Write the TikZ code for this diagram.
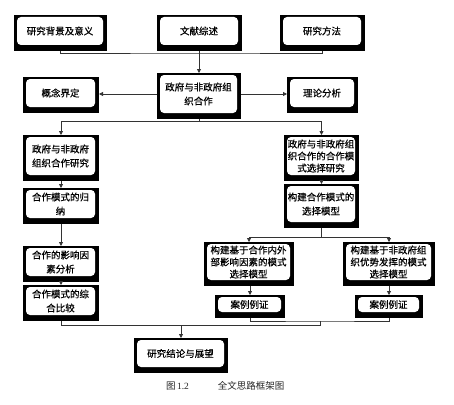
\documentclass[tikz,border=0pt]{standalone}
\usepackage{fontspec}
\newfontfamily\cjk[FakeBold=0.4]{Noto Sans CJK SC}
\newfontfamily\cjkcap{Noto Sans CJK SC}
\newfontfamily\capserif{Liberation Serif}
\usetikzlibrary{arrows.meta}
\tikzset{
  outerbox/.style={fill=black, inner sep=0pt, outer sep=0pt, draw=none},
  boxtext/.style={font=\cjk\fontsize{9.5}{14}\selectfont, align=center, inner sep=0pt, text=black},
  tight/.style={font=\cjk\fontsize{9.5}{12}\selectfont},
  conn/.style={draw=black!80, line width=0.8pt},
  arr/.style={conn, -{Triangle[length=4pt,width=4pt]}},
  captext/.style={font=\cjkcap\fontsize{9.5}{12}\selectfont, text=black!85, inner sep=0pt}
}
\newcommand{\flowbox}[7][]{%
  \node[outerbox, minimum width={(#5-#3)*1pt}, minimum height={(#6-#4)*1pt}] (#2) at ({(#3+#5)/2},{(#4+#6)/2}) {};
  \fill[white, rounded corners=4pt] ({#3+3},{#4+2}) rectangle ({#5-4},{#6-6});
  \node[boxtext,#1] at ({(#3+#5)/2-0.5},{(#4+#6)/2-2}) {#7};
}
\begin{document}
\begin{tikzpicture}[x=1pt,y=-1pt]
\useasboundingbox (0,0) rectangle (454,404);
\fill[white] (0,0) rectangle (454,404);
% boxes
\flowbox{b1}{14}{15}{107}{51}{研究背景及意义}
\flowbox{b2}{157}{15}{242}{51}{文献综述}
\flowbox{b3}{280}{15}{365}{51}{研究方法}
\flowbox{c}{157}{73}{241}{119}{政府与非政府组\\织合作}
\flowbox{k}{23}{77}{99}{113}{概念界定}
\flowbox{t}{287}{77}{358}{113}{理论分析}
\flowbox{L1}{23}{135}{99}{181}{政府与非政府\\组织合作研究}
\flowbox{L2}{23}{188}{99}{224}{合作模式的归\\纳}
\flowbox{L3}{23}{246}{99}{282}{合作的影响因\\素分析}
\flowbox{L4}{23}{285}{99}{321}{合作模式的综\\合比较}
\flowbox[tight]{R1}{284}{135}{359}{181}{政府与非政府组\\织合作的合作模\\式选择研究}
\flowbox{R2}{284}{184}{359}{228}{构建合作模式的\\选择模型}
\flowbox[tight]{S1}{204}{242}{294}{286}{构建基于合作内外\\部影响因素的模式\\选择模型}
\flowbox[tight]{S2}{343}{242}{435}{286}{构建基于非政府组\\织优势发挥的模式\\选择模型}
\flowbox{C1}{215}{295}{285}{318}{案例例证}
\flowbox{C2}{355}{295}{423}{318}{案例例证}
\flowbox{F}{134}{338}{228}{373}{研究结论与展望}
% connectors
\coordinate (bus1) at (199,53);
\draw[conn] (b1.south) |- (bus1) -| (b3.south);
\draw[arr] (c.north |- b2.south) -- (c.north);
\draw[arr] ([yshift=2pt]c.west) -- ([yshift=2pt]c.west -| k.east);
\draw[arr] ([yshift=2pt]c.east) -- ([yshift=2pt]c.east -| t.west);
\coordinate (bus2) at (199,121);
\draw[conn] (c.south) -- (bus2);
\draw[arr] (bus2) -| (L1.north);
\draw[arr] (bus2) -| (R1.north);
\draw[arr] (L1.south) -- (L2.north);
\draw[arr] (L2.south) -- (L3.north);
\draw[arr] (L3.south) -- (L4.north);
\draw[arr] (R1.south) -- (R2.north);
\coordinate (bus3) at (321.5,237);
\draw[conn] (R2.south) -- (bus3);
\draw[arr] (bus3) -| (S1.north);
\draw[arr] (bus3) -| (S2.north);
\draw[arr] (C1.north |- S1.south) -- (C1.north);
\draw[arr] (C2.north |- S2.south) -- (C2.north);
\coordinate (j1) at (320,321);
\coordinate (j2) at (320,325);
\draw[conn] (C1.south) |- (j1) -| (C2.south);
\draw[conn] (j1) -- (j2) -| (L4.south);
\draw[arr] (F.north |- j2) -- (F.north);
% caption
\node[captext] (cap1) at (177.5,386) {图\,{\capserif 1.2}};
\node[captext] (cap2) at (251,386) {全文思路框架图};
\end{tikzpicture}
\end{document}
